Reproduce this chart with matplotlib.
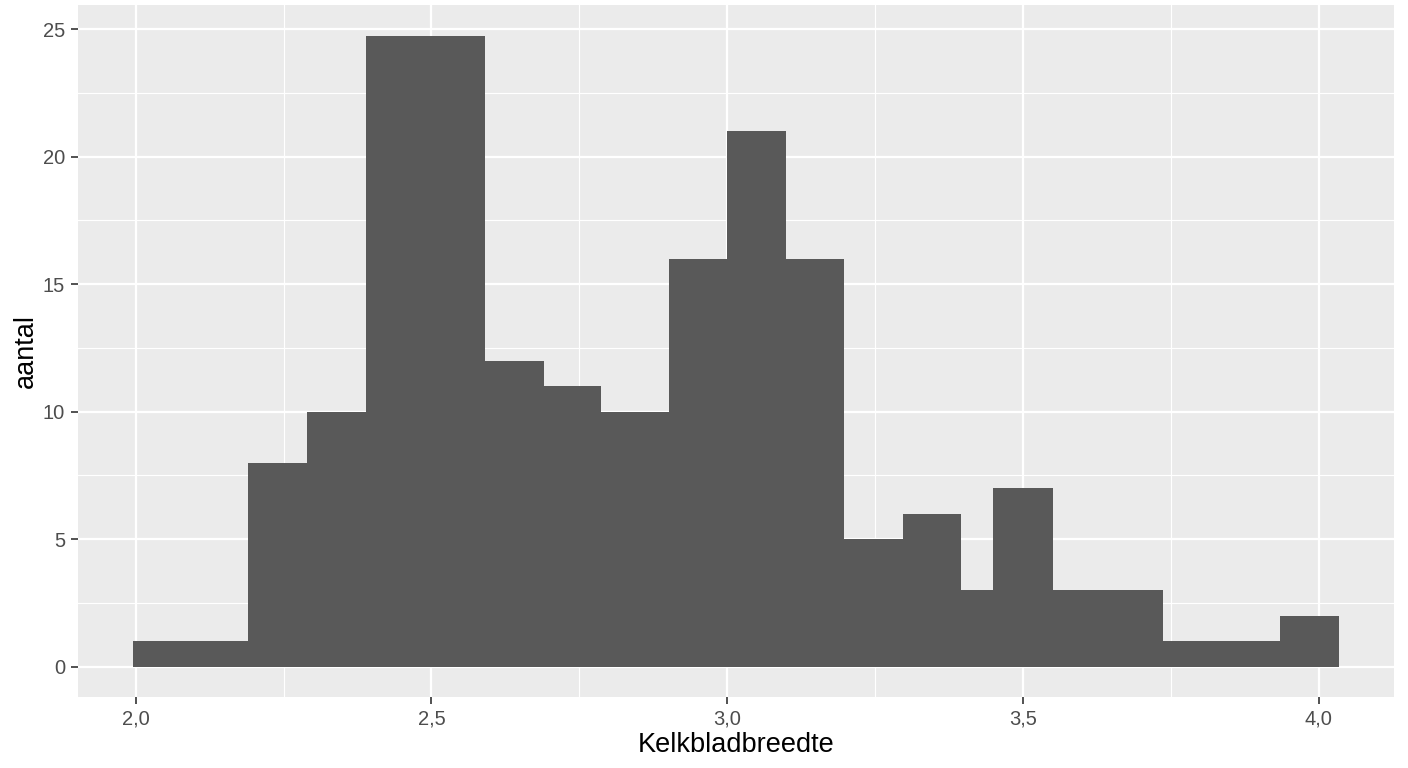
import matplotlib
matplotlib.use("Agg")
import matplotlib.pyplot as plt
import numpy as np

# Data
bin_edges = [1.995, 2.19, 2.29, 2.39, 2.59, 2.69, 2.787, 2.902, 3.0, 3.1,
             3.198, 3.297, 3.395, 3.45, 3.55, 3.736, 3.935, 4.034]
counts = [1, 8, 10, 24.75, 12, 11, 10, 16, 21, 16, 5, 6, 3, 7, 3, 1, 2]
x_ticks = [2.0, 2.5, 3.0, 3.5, 4.0]
x_tick_labels = ["2,0", "2,5", "3,0", "3,5", "4,0"]
y_ticks = [0, 5, 10, 15, 20, 25]
x_label = "Kelkbladbreedte"
y_label = "aantal"

plt.rcParams['font.family'] = ['Liberation Sans', 'DejaVu Sans']

fig = plt.figure(figsize=(14.08, 7.68), dpi=100)
ax = fig.add_axes([77.7 / 1408, 1 - 696.7 / 768, (1394 - 77.7) / 1408, (696.7 - 5) / 768])
ax.set_facecolor("#EBEBEB")

edges = np.array(bin_edges)
widths = np.diff(edges)
ax.bar(edges[:-1], counts, width=widths, align="edge", color="#595959",
       edgecolor="none", linewidth=0, zorder=3)

ax.set_xlim(1.902, 4.127)
ax.set_ylim(-1.18, 25.95)

ax.set_xticks(x_ticks)
ax.set_xticklabels(x_tick_labels)
ax.set_yticks(y_ticks)
ax.set_xticks([2.25, 2.75, 3.25, 3.75], minor=True)
ax.set_yticks([2.5, 7.5, 12.5, 17.5, 22.5], minor=True)

ax.grid(which="major", color="white", linewidth=1.6, zorder=1)
ax.grid(which="minor", color="white", linewidth=0.8, zorder=1)
ax.set_axisbelow(True)

for s in ax.spines.values():
    s.set_visible(False)

ax.tick_params(axis="both", which="major", length=5, width=1.2, color="#333333",
               labelcolor="#4D4D4D", labelsize=14.5, pad=4)
ax.tick_params(axis="both", which="minor", length=0)

ax.set_xlabel(x_label, fontsize=19.5, color="black", labelpad=3)
ax.set_ylabel(y_label, fontsize=19.5, color="black", labelpad=3)

fig.savefig("out.png", dpi=100, facecolor="white")
